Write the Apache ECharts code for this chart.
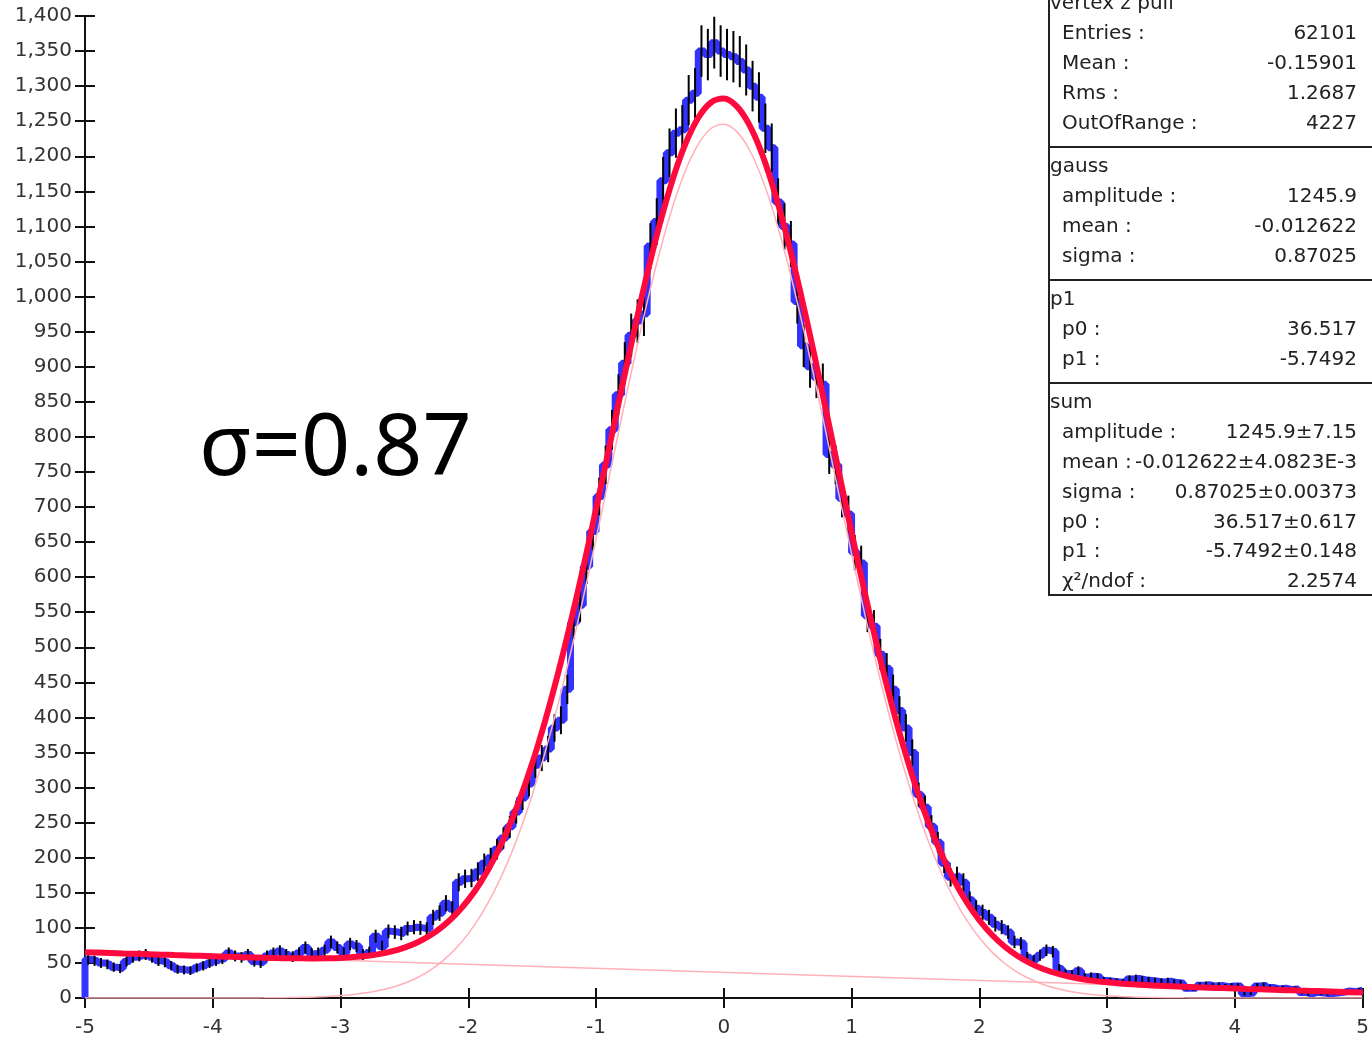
<!DOCTYPE html>
<html><head><meta charset="utf-8">
<script src="https://cdn.jsdelivr.net/npm/echarts@6/dist/echarts.min.js"></script>
<style>html,body{margin:0;padding:0;background:#fff;}#c{width:1372px;height:1038px;}</style>
</head><body><div id="c"></div>
<script>
// ---------------- data ----------------
const histRange = [-5, 5];            // 200 bins of width 0.05
const counts = [
 55,53,50,48,44,42,52,58,60,62,
 58,53,51,46,41,40,39,43,46,50,
 53,56,64,60,58,62,52,50,60,64,
 67,62,59,64,72,63,64,68,80,72,
 64,77,74,62,65,88,73,95,94,92,
 99,101,100,98,115,121,135,127,165,170,
 171,180,192,200,212,228,244,265,285,305,
 332,342,355,385,396,440,535,560,615,665,
 715,760,810,860,905,945,965,975,1072,1107,
 1165,1205,1233,1238,1280,1290,1350,1345,1362,1350,
 1345,1342,1335,1323,1300,1284,1240,1212,1135,1100,
 1075,993,930,900,885,875,775,760,712,690,
 635,620,545,530,490,470,440,410,385,350,
 290,272,245,222,192,172,174,165,140,128,
 122,115,105,101,94,80,78,58,54,61,
 68,66,42,35,34,39,30,31,30,25,
 24,23,22,27,28,26,25,24,23,24,
 22,21,14,14,18,19,17,18,16,17,
 17,6,7,17,18,15,13,14,12,13,
 8,6,8,7,6,7,8,10,9,11
];
const fitRange = [-5, 5];             // fit curves sampled every 0.1
const fitSum = [
 65.3,64.7,64.1,63.5,63.0,62.4,61.8,61.2,60.7,60.1,59.5,58.9,
 58.4,57.9,57.4,57.0,56.7,56.5,56.4,56.6,57.2,58.3,60.0,62.6,66.5,71.9,79.2,89.1,102.1,118.8,
 139.8,166.0,198.1,236.5,281.8,334.3,394.2,461.1,534.6,613.6,696.9,782.5,868.5,952.5,1032.1,1104.4,1167.2,1218.0,1255.0,1276.7,
 1282.3,
 1271.4,1244.7,1202.9,1147.6,1081.1,1005.6,923.5,837.6,750.2,663.9,580.4,501.5,428.5,362.2,303.0,251.1,206.4,168.6,136.9,110.9,
 89.8,73.1,59.8,49.4,41.4,35.4,30.7,27.1,24.4,22.4,20.8,19.5,18.4,17.6,16.8,16.0,15.3,14.7,14.1,13.5,
 12.9,12.4,11.8,11.2,10.6,10.1,9.5,8.9,8.3,7.8
];
const fitGauss = [
 0,0,0,0,0,0,0,0,0,0,0,0,0,
 0.1,0.2,0.4,0.6,1.0,1.5,2.3,3.4,5.1,7.4,10.6,15.0,21.0,28.9,39.4,52.9,70.2,91.8,118.6,151.2,190.2,236.1,289.2,349.6,417.1,491.2,570.8,654.6,740.8,827.4,912.0,992.1,1065.0,1128.4,1179.8,1217.3,1239.6,
 1245.8,
 1235.5,1209.3,1168.1,1113.4,1047.5,972.5,891.0,805.7,718.9,633.1,550.2,471.9,399.5,333.7,275.1,223.8,179.7,142.4,111.3,85.9,65.4,49.2,36.5,26.7,19.3,13.8,9.7,6.7,4.6,3.1,2.1,1.4,0.9,0.6,0.4,0.2,0.1,
 0,0,0,0,0,0,0,0,0,0,0,0,0
];
const bkgEnds = [65.3, 7.8];          // p1 line at x = -5 and x = 5

const annotation = 'σ=0.87';
const statsTitle = 'vertex z pull';
const statsSections = [
  { name: null,    labels: ['Entries :', 'Mean :', 'Rms :', 'OutOfRange :'], values: ['62101', '-0.15901', '1.2687', '4227'] },
  { name: 'gauss', labels: ['amplitude :', 'mean :', 'sigma :'], values: ['1245.9', '-0.012622', '0.87025'] },
  { name: 'p1',    labels: ['p0 :', 'p1 :'], values: ['36.517', '-5.7492'] },
  { name: 'sum',   labels: ['amplitude :', 'mean :', 'sigma :', 'p0 :', 'p1 :', 'χ²/ndof :'],
                   values: ['1245.9±7.15', '-0.012622±4.0823E-3', '0.87025±0.00373', '36.517±0.617', '-5.7492±0.148', '2.2574'] }
];

// ---------------- build ----------------
const nb = counts.length;
const bw = (histRange[1] - histRange[0]) / nb;
const stepPts = [[histRange[0], 0]];
counts.forEach((c, i) => stepPts.push([histRange[0] + i * bw, c]));
stepPts.push([histRange[1], counts[nb - 1]]);
const errData = counts.map((c, i) => [histRange[0] + (i + 0.5) * bw, c, Math.sqrt(c)]);
const fstep = (fitRange[1] - fitRange[0]) / (fitSum.length - 1);
const sumPts = fitSum.map((v, i) => [fitRange[0] + i * fstep, v]);
const gaussPts = fitGauss.map((v, i) => [fitRange[0] + i * fstep, v]);
const bkgPts = [[fitRange[0], bkgEnds[0]], [fitRange[1], bkgEnds[1]]];

const FONT = 'DejaVu Sans';
const textColor = '#222';
const fmt = v => String(v).replace(/\B(?=(\d{3})+(?!\d))/g, ',');

// stats box graphic
const g = [];
const boxL = 1049, boxR = 1400, valX = 1357, labX = 1062, hdrX = 1050;
const rowH = 29.85;
const SF = '20px ' + FONT;
let y = 4;
g.push({ type: 'rect', shape: { x: boxL, y: -20, width: boxR - boxL, height: 615 }, style: { fill: '#fff', stroke: '#222', lineWidth: 2 }, z: 10 });
g.push({ type: 'text', x: hdrX, y: y, style: { text: statsTitle, font: SF, fill: textColor, textVerticalAlign: 'middle', textAlign: 'left' }, z: 11 });
const sepY = [147, 280, 383];
statsSections.forEach((s, si) => {
  if (si > 0) {
    g.push({ type: 'line', shape: { x1: boxL, y1: sepY[si - 1], x2: boxR, y2: sepY[si - 1] }, style: { stroke: '#222', lineWidth: 2 }, z: 11 });
    y = sepY[si - 1] + 20;
    g.push({ type: 'text', x: hdrX, y: y, style: { text: s.name, font: SF, fill: textColor, textVerticalAlign: 'middle', textAlign: 'left' }, z: 11 });
  }
  s.labels.forEach((lab, k) => {
    y += rowH;
    g.push({ type: 'text', x: labX, y: y, style: { text: lab, font: SF, fill: textColor, textVerticalAlign: 'middle', textAlign: 'left' }, z: 11 });
    g.push({ type: 'text', x: valX, y: y, style: { text: s.values[k], font: SF, fill: textColor, textVerticalAlign: 'middle', textAlign: 'right' }, z: 11 });
  });
});
g.push({ type: 'text', x: 199, y: 450, style: { text: annotation, font: '86px "Noto Sans"', fill: '#000', textVerticalAlign: 'middle', textAlign: 'left' }, z: 11 });

const chart = echarts.init(document.getElementById('c'), null, { renderer: 'canvas' });
const axisLab = { fontFamily: FONT, fontSize: 20, color: '#333' };
chart.setOption({
  animation: false,
  backgroundColor: '#fff',
  grid: { left: 85, right: 7, top: 16, bottom: 39 },
  xAxis: [
    { type: 'value', min: -5, max: 5, interval: 1, position: 'bottom',
      axisLine: { onZero: false, lineStyle: { color: '#111', width: 2 } },
      axisTick: { inside: false, length: 10, lineStyle: { color: '#111', width: 2 } },
      axisLabel: Object.assign({ margin: 20 }, axisLab), splitLine: { show: false } },
    { type: 'value', min: -5, max: 5, interval: 1, position: 'bottom',
      axisLine: { show: false, onZero: false },
      axisTick: { inside: true, length: 10, lineStyle: { color: '#111', width: 2 } },
      axisLabel: { show: false }, splitLine: { show: false } }
  ],
  yAxis: [
    { type: 'value', min: 0, max: 1400, interval: 50, position: 'left',
      axisLine: { show: true, onZero: false, lineStyle: { color: '#111', width: 2 } },
      axisTick: { show: true, inside: false, length: 10, lineStyle: { color: '#111', width: 2 } },
      axisLabel: Object.assign({ margin: 13, formatter: fmt }, axisLab), splitLine: { show: false } },
    { type: 'value', min: 0, max: 1400, interval: 50, position: 'left',
      axisLine: { show: false, onZero: false },
      axisTick: { show: true, inside: true, length: 10, lineStyle: { color: '#111', width: 2 } },
      axisLabel: { show: false }, splitLine: { show: false } }
  ],
  series: [
    { type: 'line', name: 'hist', data: stepPts, step: 'end', showSymbol: false, symbol: 'none',
      lineStyle: { color: '#3333ff', width: 7 }, z: 2 },
    { type: 'custom', name: 'err', data: errData, z: 3,
      renderItem: (params, api) => {
        const x = api.value(0), v = api.value(1), e = api.value(2);
        const a = api.coord([x, v - e]), b = api.coord([x, v + e]);
        return { type: 'line', shape: { x1: a[0], y1: a[1], x2: b[0], y2: b[1] }, style: { stroke: '#000', lineWidth: 2 } };
      } },
    { type: 'line', name: 'gauss', data: gaussPts, smooth: 0.3, showSymbol: false, symbol: 'none',
      lineStyle: { color: '#ffb0b8', width: 1.5 }, z: 4 },
    { type: 'line', name: 'p1', data: bkgPts, showSymbol: false, symbol: 'none',
      lineStyle: { color: '#ffb0b8', width: 1.5 }, z: 4 },
    { type: 'line', name: 'sum', data: sumPts, smooth: 0.3, showSymbol: false, symbol: 'none',
      lineStyle: { color: '#ff0a3c', width: 6 }, z: 5 }
  ],
  graphic: g
});
</script></body></html>
